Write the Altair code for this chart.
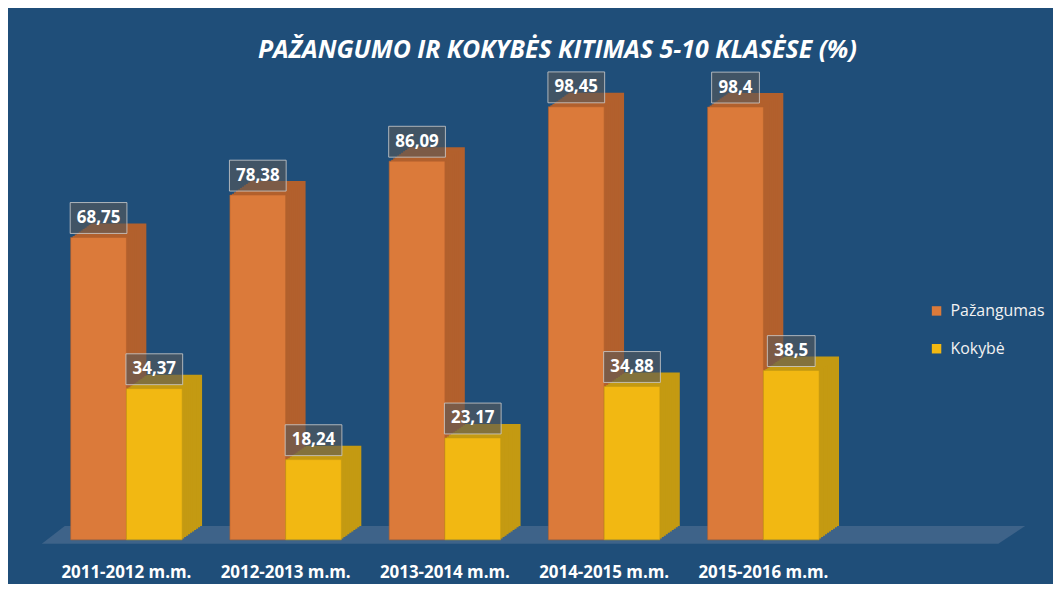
import altair as alt
import pandas as pd

categories = ["2011-2012 m.m.", "2012-2013 m.m.", "2013-2014 m.m.", "2014-2015 m.m.", "2015-2016 m.m."]
pazangumas = [68.75, 78.38, 86.09, 98.45, 98.4]
kokybe = [34.37, 18.24, 23.17, 34.88, 38.5]
series_names = ["Pažangumas", "Kokybė"]
front_colors = ["#DB7A3A", "#F2B812"]
side_colors = ["#B2602D", "#C49A12"]
title_text = "PAŽANGUMO IR KOKYBĖS KITIMAS 5-10 KLASĖSE (%)"

frames = []
for s, vals in zip(series_names, [pazangumas, kokybe]):
    labs = [f"{v:g}".replace(".", ",") for v in vals]
    frames.append(pd.DataFrame({"cat": categories, "series": s, "value": vals,
                                "label": labs, "n": [len(l) for l in labs]}))

FONT = "Open Sans"
BAR_W = 56
N = 10
DX, DY = 20, 14
shifts = [-BAR_W / 2, BAR_W / 2]

X = alt.X("cat:N", sort=categories,
          scale=alt.Scale(domain=categories, paddingInner=0, paddingOuter=0),
          axis=alt.Axis(title=None, labelAngle=0, domain=False, ticks=False, grid=False,
                        labelPadding=25, labelFontSize=17, labelFontWeight="bold",
                        labelColor="white", labelFont=FONT))
Y = alt.Y("value:Q", scale=alt.Scale(domain=[0, 100], nice=False, zero=True), axis=None)

color = alt.Color("series:N", scale=alt.Scale(domain=series_names, range=front_colors),
                  legend=alt.Legend(title=None, orient="none", legendX=886, legendY=204,
                                    symbolType="square", symbolSize=90, symbolStrokeWidth=0,
                                    labelFont=FONT, labelFontSize=16, labelColor="#F2F2F2",
                                    rowPadding=22, labelOffset=6))

# label box outlines: one path per label length (4 or 5 characters)
box_paths = ["M -0.8 -0.517 L 0.8 -0.517 L 0.8 0.517 L -0.8 0.517 Z",
             "M -0.95 -0.517 L 0.95 -0.517 L 0.95 0.517 L -0.95 0.517 Z"]

floor = alt.Chart(alt.Data(values=[{"f": 1}])).mark_point(
    shape="M -0.9495 -0.0182 L 1 -0.0182 L 0.9455 0.0182 L -0.996 0.0182 Z",
    size=990 ** 2, filled=True, fill="#3E6389", opacity=1, strokeWidth=0
).encode(x=alt.value(488), y=alt.value(437))

layers = [floor]
for i, d in enumerate(frames):
    for k in range(N, 0, -1):
        layers.append(alt.Chart(d).mark_bar(width=BAR_W, color=side_colors[i],
                                            xOffset=shifts[i] + DX * k / N,
                                            yOffset=-DY * k / N).encode(x=X, y=Y))
    layers.append(alt.Chart(d).mark_bar(width=BAR_W, xOffset=shifts[i], stroke=side_colors[i],
                                        strokeWidth=0.6).encode(x=X, y=Y, color=color))

for i, d in enumerate(frames):
    layers.append(alt.Chart(d).mark_point(
        xOffset=shifts[i], yOffset=-19.5, size=3600, filled=True, fill="#595959",
        fillOpacity=0.6, stroke="#CFCFCF", strokeWidth=1, strokeOpacity=0.8, opacity=1
    ).encode(x=X, y=Y, shape=alt.Shape("n:O", scale=alt.Scale(domain=[4, 5], range=box_paths),
                                       legend=None)))
    layers.append(alt.Chart(d).mark_text(xOffset=shifts[i], yOffset=-19.5, font=FONT, fontSize=17,
                                         fontWeight="bold", color="white", baseline="middle",
                                         align="center").encode(x=X, y=Y, text="label:N"))

chart = alt.layer(*layers).properties(
    width=800, height=442,
    title=alt.TitleParams(title_text, font=FONT, fontSize=25, fontStyle="italic",
                          fontWeight="bold", color="white", anchor="middle", dx=113, offset=7),
    autosize=alt.AutoSizeParams(type="none"),
    padding={"left": 39, "top": 91, "right": 211, "bottom": 43},
    background="#1F4E79",
).configure_view(stroke=None)

chart.save("out.html", embed_options={"renderer": "svg", "actions": False})
